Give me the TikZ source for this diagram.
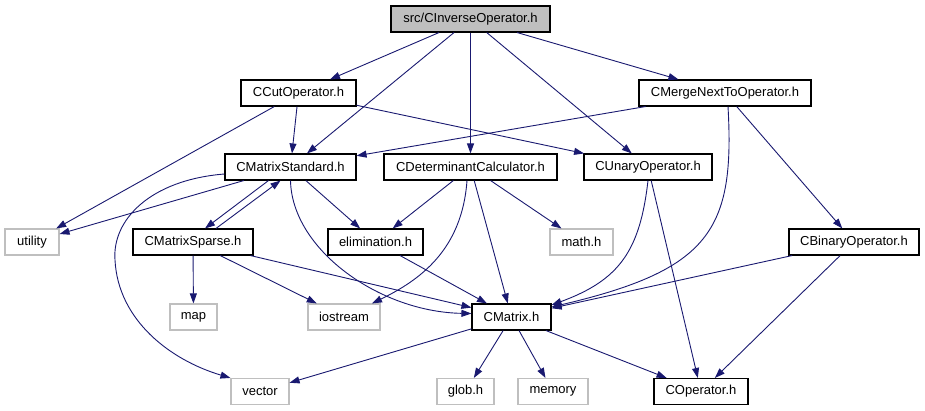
\documentclass[tikz,border=0pt]{standalone}
\usepackage{fontspec}
\setmainfont{Liberation Sans}
\usetikzlibrary{arrows.meta, positioning}
\definecolor{incEdge}{HTML}{191970}
\definecolor{incGray}{HTML}{BFBFBF}
\tikzset{
  incnode/.style={
    draw=black, line width=1.1pt, minimum height=26pt, inner sep=0pt,
    fill=white, font=\fontsize{13}{15}\selectfont
  },
  rootnode/.style={incnode, fill=incGray},
  sysnode/.style={incnode, draw=incGray},
  inc/.style={-{Triangle[length=10pt,width=7pt]}, line width=0.9pt, incEdge}
}
\begin{document}
\begin{tikzpicture}[x=1pt, y=-1pt]
  \useasboundingbox (0,0) rectangle (925,411);
  % headers
  \node[rootnode, minimum width=159pt] (inv) at (470.5,19) {src/CInverseOperator.h};
  \node[incnode, minimum width=115pt] (cut) at (298.5,93) {CCutOperator.h};
  \node[incnode, minimum width=172pt] (merge) at (725,93) {CMergeNextToOperator.h};
  \node[incnode, minimum width=131pt] (std) at (290.5,167) {CMatrixStandard.h};
  \node[incnode, minimum width=173pt] (det) at (470.5,167) {CDeterminantCalculator.h};
  \node[incnode, minimum width=128pt] (unary) at (648,167) {CUnaryOperator.h};
  \node[sysnode, minimum width=54pt] (utility) at (32,242) {utility};
  \node[incnode, minimum width=120pt] (sparse) at (193,242) {CMatrixSparse.h};
  \node[incnode, minimum width=95pt] (elim) at (375.5,242) {elimination.h};
  \node[sysnode, minimum width=63pt] (math) at (581.5,242) {math.h};
  \node[incnode, minimum width=130pt] (binary) at (854,242) {CBinaryOperator.h};
  \node[sysnode, minimum width=47pt] (map) at (193.5,317) {map};
  \node[sysnode, minimum width=72pt] (iostream) at (344,317) {iostream};
  \node[incnode, minimum width=79pt] (cmatrix) at (511.5,317) {CMatrix.h};
  \node[sysnode, minimum width=58pt] (vector) at (260,391.5) {vector};
  \node[sysnode, minimum width=57pt] (glob) at (465.5,391.5) {glob.h};
  \node[sysnode, minimum width=70pt] (memory) at (553,391.5) {memory};
  \node[incnode, minimum width=94pt] (coperator) at (701,391.5) {COperator.h};
  % includes
  \draw[inc] (inv) -- (cut);
  \draw[inc] (inv) -- (std);
  \draw[inc] (inv) -- (det);
  \draw[inc] (inv) -- (unary);
  \draw[inc] (inv) -- (merge);
  \draw[inc] (cut) -- (utility);
  \draw[inc] (cut) -- (std);
  \draw[inc] (cut) -- (unary);
  \draw[inc] (merge) -- (std);
  \draw[inc] ([xshift=3pt]merge.south) .. controls (735,230) and (710,270) .. ([yshift=10pt]cmatrix.east);
  \draw[inc] (merge) -- (binary);
  \draw[inc] (std) -- (utility);
  \draw[inc] ([xshift=-22pt]std.south) -- ([xshift=12pt]sparse.north);
  \draw[inc] ([xshift=23pt]sparse.north) -- ([xshift=-10pt]std.south);
  \draw[inc] (std) -- (elim);
  \draw[inc] (std.south) .. controls (292,250) and (380,312) .. ([yshift=3.5pt]cmatrix.west);
  \draw[inc] ([yshift=-7pt]std.west) .. controls (150,180) and (112,220) .. (115,260)
    .. controls (118,320) and (170,360) .. (vector.north west);
  \draw[inc] (det) -- (elim);
  \draw[inc] ([xshift=-3.5pt]det.south) .. controls (462,250) and (420,280) .. ([xshift=28pt]iostream.north);
  \draw[inc] (det) -- (cmatrix);
  \draw[inc] (det) -- (math);
  \draw[inc] (unary.south) .. controls (640,250) and (620,280) .. ([yshift=12pt]cmatrix.east);
  \draw[inc] (unary) -- (coperator);
  \draw[inc] (sparse) -- (map);
  \draw[inc] (sparse) -- (iostream);
  \draw[inc] (sparse) -- (cmatrix);
  \draw[inc] (elim) -- (cmatrix);
  \draw[inc] (binary) -- (cmatrix);
  \draw[inc] (binary) -- (coperator);
  \draw[inc] (cmatrix) -- (vector);
  \draw[inc] (cmatrix) -- (glob);
  \draw[inc] (cmatrix) -- (memory);
  \draw[inc] (cmatrix) -- (coperator);
\end{tikzpicture}
\end{document}
